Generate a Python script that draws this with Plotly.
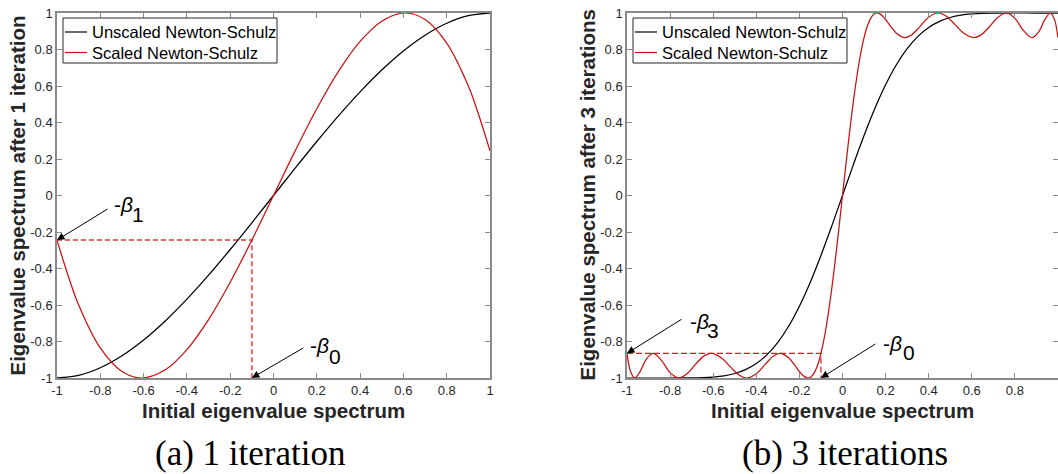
import plotly.graph_objects as go

# ---------------- data ----------------
beta0 = 0.1
beta1 = 0.2444
beta3 = 0.865

tick_vals = [-1, -0.8, -0.6, -0.4, -0.2, 0, 0.2, 0.4, 0.6, 0.8, 1]
tick_text = ["-1", "-0.8", "-0.6", "-0.4", "-0.2", "0", "0.2", "0.4", "0.6", "0.8", "1"]
tick_text_x2 = ["-1", "-0.8", "-0.6", "-0.4", "-0.2", "0", "0.2", "0.4", "0.6", "0.8", ""]

# (a) 1 iteration
x_unscaled_1 = [-1, -0.9, -0.8, -0.7, -0.6, -0.5, -0.4, -0.3, -0.2, -0.1, 0,
                0.1, 0.2, 0.3, 0.4, 0.5, 0.6, 0.7, 0.8, 0.9, 1]
y_unscaled_1 = [-1, -0.9855, -0.944, -0.8785, -0.792, -0.6875, -0.568, -0.4365, -0.296, -0.1495, 0,
                0.1495, 0.296, 0.4365, 0.568, 0.6875, 0.792, 0.8785, 0.944, 0.9855, 1]

x_scaled_1 = [-1, -0.95, -0.9, -0.8, -0.7, -0.608, -0.5, -0.4, -0.3, -0.2, -0.1, 0,
              0.1, 0.2, 0.3, 0.4, 0.5, 0.608, 0.7, 0.8, 0.9, 0.95, 1]
y_scaled_1 = [-0.2444, -0.434, -0.5998, -0.8353, -0.9642, -1.0, -0.9553, -0.8442, -0.6798, -0.4754, -0.2444, 0,
              0.2444, 0.4754, 0.6798, 0.8442, 0.9553, 1.0, 0.9642, 0.8353, 0.5998, 0.434, 0.2444]

# (b) 3 iterations
x_unscaled_3 = [-1, -0.9, -0.8, -0.7, -0.65, -0.6, -0.55, -0.5, -0.45, -0.4, -0.35, -0.3, -0.25, -0.2,
                -0.15, -0.1, -0.05, 0, 0.05, 0.1, 0.15, 0.2, 0.25, 0.3, 0.35, 0.4, 0.45, 0.5,
                0.55, 0.6, 0.65, 0.7, 0.8, 0.9, 1]
y_unscaled_3 = [-1, -1, -1, -0.9993, -0.9979, -0.9946, -0.9879, -0.9753, -0.9541, -0.9208, -0.8719,
                -0.8045, -0.7163, -0.6065, -0.4762, -0.3284, -0.1676, 0, 0.1676, 0.3284, 0.4762,
                0.6065, 0.7163, 0.8045, 0.8719, 0.9208, 0.9541, 0.9753, 0.9879, 0.9946, 0.9979,
                0.9993, 1, 1, 1]

x_scaled_3 = [-1.0, -0.995, -0.985, -0.9644, -0.94, -0.91, -0.8788, -0.84, -0.80, -0.7597, -0.72,
              -0.68, -0.64, -0.6083, -0.56, -0.52, -0.48, -0.4428, -0.40, -0.36, -0.32, -0.2892,
              -0.25, -0.225, -0.2, -0.18, -0.16, -0.145, -0.13, -0.115, -0.1, -0.09, -0.08, -0.07,
              -0.06, -0.05, -0.04, -0.03, -0.02, -0.01, 0,
              0.01, 0.02, 0.03, 0.04, 0.05, 0.06, 0.07, 0.08, 0.09, 0.1, 0.115, 0.13, 0.145, 0.16,
              0.18, 0.2, 0.225, 0.25, 0.2892, 0.32, 0.36, 0.40, 0.4428, 0.48, 0.52, 0.56, 0.6083,
              0.64, 0.68, 0.72, 0.7597, 0.80, 0.84, 0.8788, 0.91, 0.94, 0.9644, 0.985, 0.995, 1.0]
y_scaled_3 = [-0.865, -0.9036, -0.9596, -1.0, -0.9661, -0.8961, -0.865, -0.9031, -0.9706, -1.0, -0.975,
              -0.9218, -0.8772, -0.865, -0.8913, -0.9391, -0.9836, -1.0, -0.9772, -0.927, -0.8791, -0.865,
              -0.8889, -0.9244, -0.9643, -0.9897, -1.0, -0.9928, -0.9694, -0.9273, -0.865, -0.8117,
              -0.7493, -0.6781, -0.5985, -0.5114, -0.4176, -0.3182, -0.2146, -0.108, 0,
              0.108, 0.2146, 0.3182, 0.4176, 0.5114, 0.5985, 0.6781, 0.7493, 0.8117, 0.865, 0.9273,
              0.9694, 0.9928, 1.0, 0.9897, 0.9643, 0.9244, 0.8889, 0.865, 0.8791, 0.927, 0.9772, 1.0,
              0.9836, 0.9391, 0.8913, 0.865, 0.8772, 0.9218, 0.975, 1.0, 0.9706, 0.9031, 0.865,
              0.8961, 0.9661, 1.0, 0.9596, 0.9036, 0.865]

legend_names = ["Unscaled Newton-Schulz", "Scaled Newton-Schulz"]
x_title = "Initial eigenvalue spectrum"
y_titles = ["Eigenvalue spectrum after 1 iteration", "Eigenvalue spectrum after 3 iterations"]
captions = ["(a) 1 iteration", "(b) 3 iterations"]

# ---------------- styles ----------------
W, H = 1058, 474
BLACK = "#000000"
RED = "#cc1010"
AXIS = "#8a8a8a"
TXT = "#262626"
SANS = "Liberation Sans, Arial, sans-serif"
SERIF = "Liberation Serif, Times New Roman, serif"
series_colors = [BLACK, RED]

fig = go.Figure()

# dashed guide lines
fig.add_trace(go.Scatter(x=[-1, -beta0, -beta0], y=[-beta1, -beta1, -1], mode="lines",
                         line=dict(color="#e06a6a", width=2, dash="5px,3px"),
                         showlegend=False, hoverinfo="skip", xaxis="x", yaxis="y"))
fig.add_trace(go.Scatter(x=[-1, -beta0, -beta0], y=[-beta3, -beta3, -1], mode="lines",
                         line=dict(color="#cc2020", width=1.2, dash="6px,3px"),
                         showlegend=False, hoverinfo="skip", xaxis="x2", yaxis="y2"))

# curves
panels = [
    ("x", "y", [(x_unscaled_1, y_unscaled_1), (x_scaled_1, y_scaled_1)]),
    ("x2", "y2", [(x_unscaled_3, y_unscaled_3), (x_scaled_3, y_scaled_3)]),
]
for xa, ya, series in panels:
    for (xs, ys), name, col in zip(series, legend_names, series_colors):
        fig.add_trace(go.Scatter(x=xs, y=ys, mode="lines", name=name,
                                 line=dict(color=col, width=1.25, shape="spline"),
                                 showlegend=False, xaxis=xa, yaxis=ya))

y_dom = [1 - 378 / H, 1 - 13 / H]
axis_common = dict(range=[-1, 1], tickvals=tick_vals, showgrid=False, zeroline=False,
                   showline=True, linecolor=AXIS, linewidth=1.5, mirror="ticks",
                   ticks="inside", ticklen=5, tickwidth=1, tickcolor=AXIS,
                   tickfont=dict(family=SANS, size=13, color=TXT), fixedrange=True,
                   automargin=False)

fig.update_layout(
    width=W, height=H, margin=dict(l=0, r=0, t=0, b=0, pad=0), autosize=False,
    paper_bgcolor="white", plot_bgcolor="white", showlegend=False,
    xaxis=dict(domain=[57 / W, 490 / W], anchor="y", ticktext=tick_text, **axis_common),
    yaxis=dict(domain=y_dom, anchor="x", ticktext=tick_text, **axis_common),
    xaxis2=dict(domain=[627 / W, 1.0], anchor="y2", ticktext=tick_text_x2, **axis_common),
    yaxis2=dict(domain=y_dom, anchor="x2", ticktext=tick_text, **axis_common),
)

ann = []
shapes = []
title_font = dict(family=SANS, size=20.5, color=TXT)
legend_font = dict(family=SANS, size=16.5, color="#000000")
for i, (xr, yr) in enumerate([("x", "y"), ("x2", "y2")]):
    xd, yd = xr + " domain", yr + " domain"
    ann.append(dict(text="<b>%s</b>" % x_title, xref=xd, yref=yd,
                    x=0.5, y=0, xanchor="center", yanchor="middle", yshift=-32,
                    showarrow=False, font=title_font))
    ann.append(dict(text="<b>%s</b>" % y_titles[i], xref=xd, yref=yd,
                    x=0, y=0.5, xanchor="center", yanchor="middle", xshift=-40, textangle=-90,
                    showarrow=False, font=title_font))
    # legend box (MATLAB style, drawn in pixel offsets from the axes' top-left corner)
    shapes.append(dict(type="rect", xref=xd, yref=yd, xsizemode="pixel", ysizemode="pixel",
                       xanchor=0, yanchor=1, x0=6, x1=220, y0=-5, y1=-50,
                       line=dict(color=TXT, width=1), fillcolor="white", layer="above"))
    for k, (name, col) in enumerate(zip(legend_names, series_colors)):
        yoff = -19 - 20.5 * k
        shapes.append(dict(type="line", xref=xd, yref=yd, xsizemode="pixel", ysizemode="pixel",
                           xanchor=0, yanchor=1, x0=8, x1=30, y0=yoff, y1=yoff,
                           line=dict(color=col, width=1.2), layer="above"))
        ann.append(dict(text=name, xref=xd, yref=yd, x=0, y=1, xshift=33, yshift=yoff,
                        xanchor="left", yanchor="middle", showarrow=False, font=legend_font))

# arrows and beta labels
beta_font = dict(family=SANS, size=21, color="#000000")
sub_font = dict(family=SANS, size=21, color="#000000")
markers = [
    # xref, yref, x, y, ax, ay, text shift, sub text, sub shift
    ("x", "y", -1, -beta1, 52, -32, (55, 36), "1", (73, 26)),
    ("x", "y", -beta0, -1, 53, -31, (56, 33), "0", (75, 22)),
    ("x2", "y2", -1, -beta3, 56, -35, (61, 32), "3", (78, 23)),
    ("x2", "y2", -beta0, -1, 56, -35, (60, 35), "0", (80, 26)),
]
for xr, yr, x, y, ax, ay, ts, sub, ss in markers:
    ann.append(dict(xref=xr, yref=yr, x=x, y=y, ax=ax, ay=ay, axref="pixel", ayref="pixel",
                    text="", showarrow=True, arrowhead=2, arrowsize=1.5, arrowwidth=1,
                    arrowcolor="#000000", standoff=0))
    ann.append(dict(xref=xr, yref=yr, x=x, y=y, text="-<i>β</i>", showarrow=False,
                    xanchor="left", yanchor="middle", xshift=ts[0], yshift=ts[1], font=beta_font))
    ann.append(dict(xref=xr, yref=yr, x=x, y=y, text=sub, showarrow=False,
                    xanchor="left", yanchor="middle", xshift=ss[0], yshift=ss[1], font=sub_font))

# captions
cap_font = dict(family=SERIF, size=35, color="#000000")
for cx, cap in zip([250 / W, 845 / W], captions):
    ann.append(dict(text=cap, xref="paper", yref="paper", x=cx, y=0,
                    xanchor="center", yanchor="bottom", yshift=-1, showarrow=False, font=cap_font))

fig.update_layout(annotations=ann, shapes=shapes)
fig.write_html(
    "out.html",
    config={"responsive": False, "displayModeBar": False},
    post_script="document.body.style.margin='0px';document.body.style.padding='0px';"
                "document.body.style.overflow='hidden';"
                "document.documentElement.style.overflow='hidden';",
)
